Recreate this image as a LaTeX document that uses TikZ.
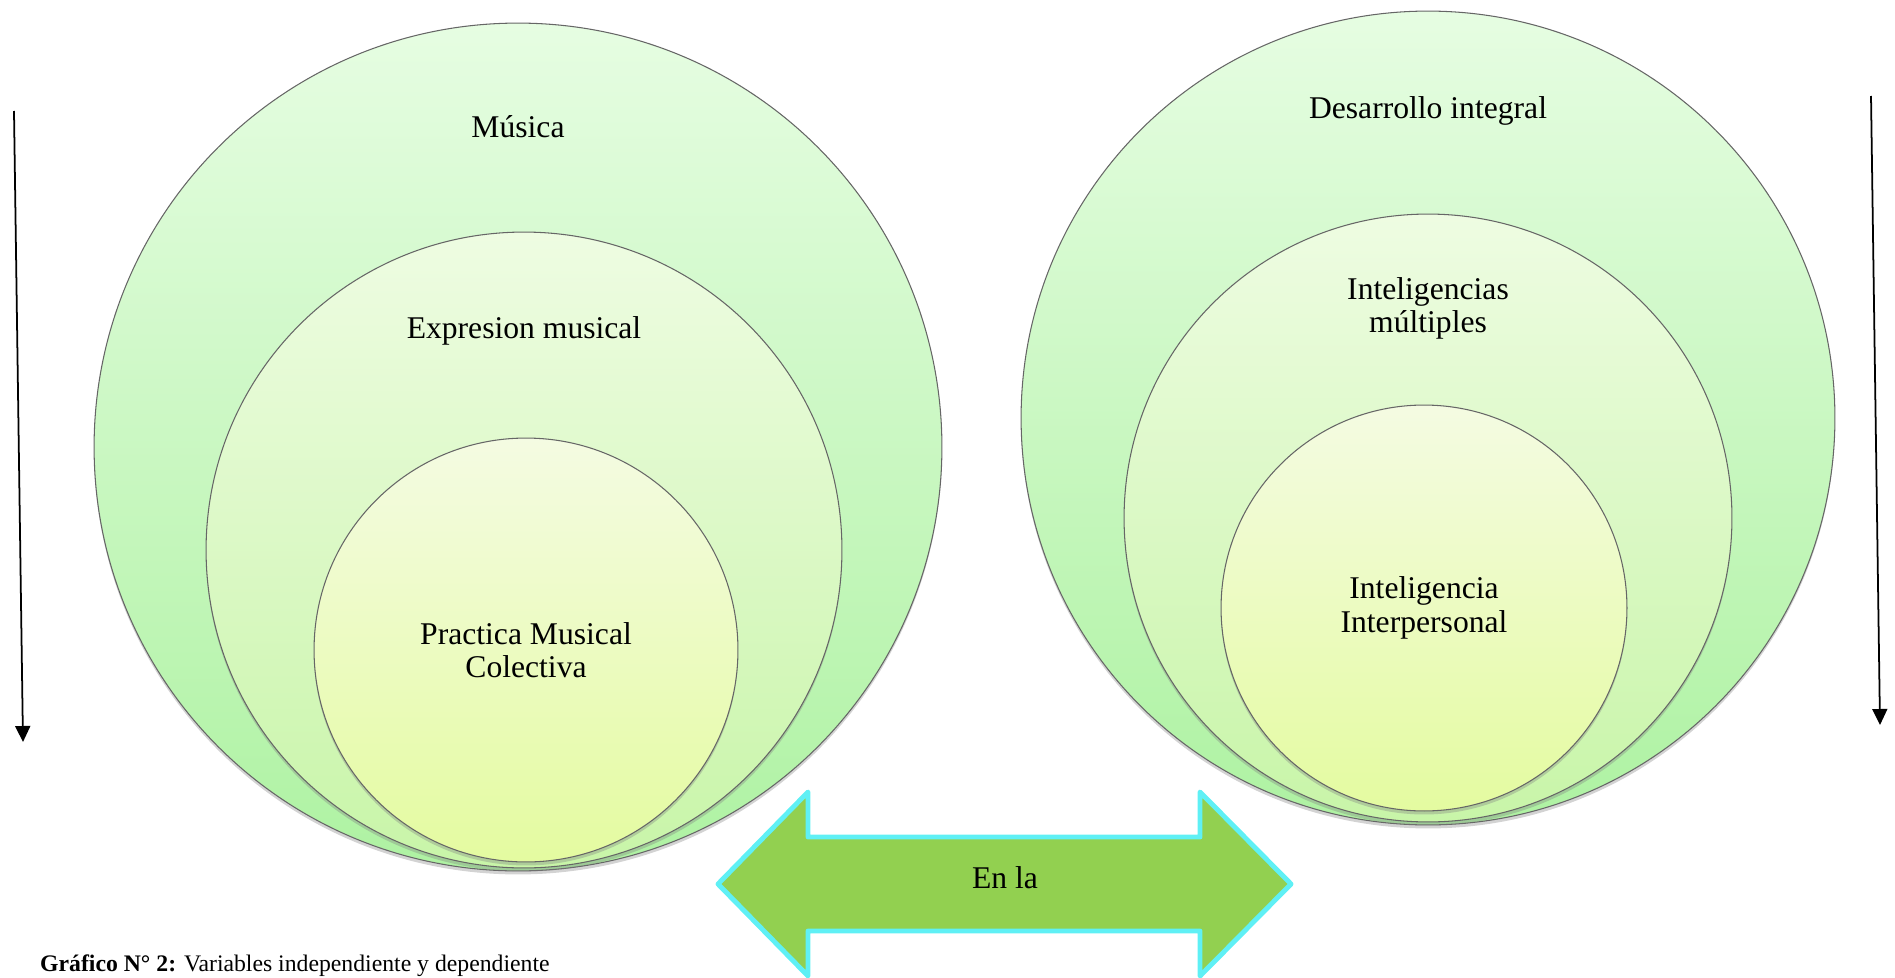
\documentclass[tikz,border=0pt]{standalone}
\usepackage{fontspec}
\setmainfont{Liberation Serif}
\usetikzlibrary{arrows.meta,positioning,shadows}

\definecolor{outertop}{HTML}{E6FDE2}
\definecolor{outerbot}{HTML}{AEF2A2}
\definecolor{middletop}{HTML}{EEFCE2}
\definecolor{middlebot}{HTML}{C8F5A8}
\definecolor{innertop}{HTML}{F4FBE2}
\definecolor{innerbot}{HTML}{E4FBA0}
\definecolor{arrowgreen}{HTML}{92D050}
\definecolor{arrowcyan}{HTML}{5FF0F5}

\tikzset{
  ring/.style={circle, draw=black!60, line width=0.6pt, inner sep=0pt,
    drop shadow={opacity=0.35, shadow xshift=0pt, shadow yshift=-2pt}},
  outer/.style={ring, top color=outertop, bottom color=outerbot},
  middle/.style={ring, top color=middletop, bottom color=middlebot},
  inner/.style={ring, top color=innertop, bottom color=innerbot, align=center},
  enla/.style={fill=arrowgreen, draw=arrowcyan, line width=2.8pt, line join=round},
}

\begin{document}
\begin{tikzpicture}[x=0.02cm, y=-0.02cm, >={Triangle[width=0.3cm,length=0.32cm]},
    font=\fontsize{18}{19}\selectfont]
  \useasboundingbox (0,0) rectangle (1895,977);

  % left circles
  \node[outer, minimum size=16.96cm] (musica) at (518,447) {};
  \node[middle, minimum size=12.72cm] (expresion) at (524,550) {};
  \node[inner, minimum size=8.48cm] (practica) at (526,650) {Practica Musical\\Colectiva};
  \node (tmusica) at ([yshift=-2.08cm]musica.north) {Música};
  \node (texpresion) at ([yshift=-1.98cm]expresion.north) {Expresion musical};

  % right circles
  \node[outer, minimum size=16.28cm] (desarrollo) at (1428,418) {};
  \node[middle, minimum size=12.16cm] (multiples) at (1428,518) {};
  \node[inner, minimum size=8.12cm] (interpersonal) at (1424,608) {Inteligencia\\Interpersonal};
  \node (tdesarrollo) at ([yshift=-2.0cm]desarrollo.north) {Desarrollo integral};
  \node[align=center] (tmultiples) at ([yshift=-1.9cm]multiples.north) {Inteligencias\\múltiples};

  % side arrows
  \coordinate (ltop) at (14,111);
  \coordinate (lbot) at (23,742);
  \coordinate (rtop) at (1871,96);
  \coordinate (rbot) at (1880,725);
  \draw[->, line width=1pt] (ltop) -- (lbot);
  \draw[->, line width=1pt] (rtop) -- (rbot);

  % double arrow
  \draw[enla] (718,884) -- (808,792) -- (808,837) -- (1200,837) -- (1200,792)
    -- (1291,884) -- (1200,976) -- (1200,931) -- (808,931) -- (808,976) -- cycle;
  \node (enla) at (1005,878) {En la};

  \node[anchor=base west, font=\fontsize{13.5}{15}\selectfont] (caption) at (34,971)
    {\textbf{Gráfico N° 2:} Variables independiente y dependiente};
\end{tikzpicture}
\end{document}
